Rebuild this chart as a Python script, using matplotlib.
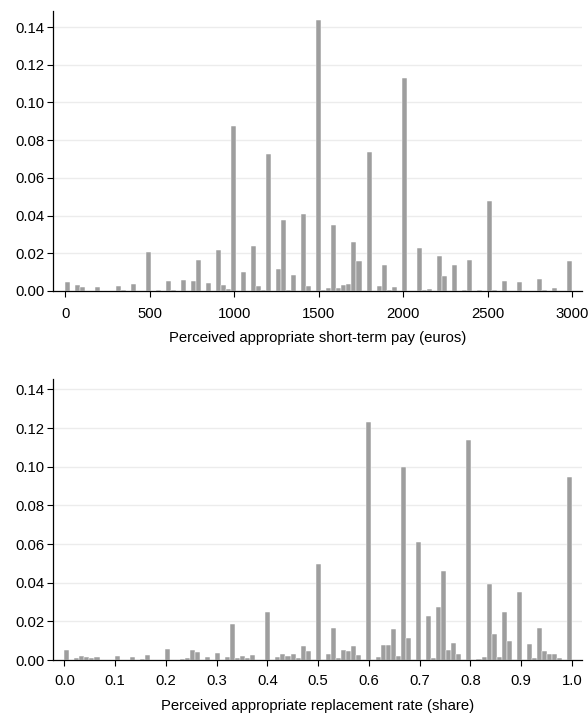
import numpy as np
import matplotlib
matplotlib.use("Agg")
import matplotlib.pyplot as plt

plt.rcParams['font.family'] = ['Liberation Sans', 'DejaVu Sans']

# ---- Top panel: perceived appropriate short-term pay (euros) ----
pay_values = [0, 75, 100, 200, 300, 350, 400, 500, 550, 600, 650, 700, 750, 800,
              850, 900, 940, 970, 1000, 1050, 1100, 1150, 1180, 1200, 1250, 1300,
              1320, 1350, 1400, 1450, 1500, 1520, 1550, 1600, 1620, 1650, 1680,
              1700, 1750, 1800, 1850, 1900, 1920, 1950, 2000, 2100, 2120, 2150,
              2200, 2250, 2300, 2350, 2400, 2450, 2500, 2530, 2600, 2700, 2800,
              2840, 2900, 3000]
pay_share = [0.0049, 0.0032, 0.0023, 0.0023, 0.0028, 0.0007, 0.0037, 0.0205, 0.0007,
             0.0053, 0.0007, 0.0058, 0.0053, 0.0163, 0.0042, 0.0216, 0.0030, 0.0010,
             0.0873, 0.0102, 0.0237, 0.0028, 0.0007, 0.0725, 0.0118, 0.0377, 0.0007,
             0.0083, 0.0407, 0.0027, 0.1437, 0.0006, 0.0014, 0.0352, 0.0014, 0.0032,
             0.0039, 0.0260, 0.0161, 0.0737, 0.0028, 0.0138, 0.0007, 0.0020, 0.1131,
             0.0228, 0.0007, 0.0010, 0.0187, 0.0078, 0.0138, 0.0007, 0.0164, 0.0007,
             0.0479, 0.0005, 0.0053, 0.0048, 0.0064, 0.0005, 0.0016, 0.0161]
pay_ticks = [0, 500, 1000, 1500, 2000, 2500, 3000]
pay_label = "Perceived appropriate short-term pay (euros)"

# ---- Bottom panel: perceived appropriate replacement rate (share) ----
rate_values = [0.0, 0.025, 0.035, 0.045, 0.055, 0.065, 0.1, 0.13, 0.15, 0.16, 0.2,
               0.23, 0.24, 0.25, 0.26, 0.28, 0.3, 0.32, 0.333, 0.34, 0.35, 0.36, 0.37,
               0.4, 0.42, 0.43, 0.44, 0.45, 0.46, 0.47, 0.48, 0.5, 0.52, 0.53, 0.54,
               0.55, 0.56, 0.57, 0.58, 0.6, 0.62, 0.63, 0.64, 0.65, 0.66, 0.667, 0.68,
               0.7, 0.72, 0.73, 0.74, 0.75, 0.76, 0.77, 0.78, 0.8, 0.82, 0.83, 0.84,
               0.85, 0.86, 0.87, 0.88, 0.9, 0.92, 0.93, 0.94, 0.95, 0.96, 0.97, 0.98,
               1.0]
rate_share = [0.0052, 0.0012, 0.0019, 0.0017, 0.0012, 0.0017, 0.0021, 0.0014, 0.0007,
              0.0026, 0.0058, 0.0007, 0.0009, 0.0052, 0.0043, 0.0017, 0.0038, 0.0017,
              0.0188, 0.0009, 0.0019, 0.0012, 0.0026, 0.0248, 0.0017, 0.0031, 0.0021,
              0.0031, 0.0009, 0.0072, 0.0047, 0.0497, 0.0031, 0.0164, 0.0010, 0.0053,
              0.0047, 0.0074, 0.0024, 0.1233, 0.0014, 0.0076, 0.0076, 0.0160, 0.0019,
              0.0998, 0.0115, 0.0612, 0.0228, 0.0010, 0.0272, 0.0459, 0.0053, 0.0088,
              0.0030, 0.1136, 0.0007, 0.0016, 0.0393, 0.0133, 0.0016, 0.0248, 0.0097,
              0.0350, 0.0081, 0.0012, 0.0166, 0.0048, 0.0030, 0.0030, 0.0009, 0.0945]
rate_ticks = [0.0, 0.1, 0.2, 0.3, 0.4, 0.5, 0.6, 0.7, 0.8, 0.9, 1.0]
rate_label = "Perceived appropriate replacement rate (share)"

y_ticks = [0.00, 0.02, 0.04, 0.06, 0.08, 0.10, 0.12, 0.14]
n_bins = 101

bar_color = '#9e9e9e'
fs = 10.7

fig = plt.figure(figsize=(5.88, 7.13), dpi=100)
W, H = 588.0, 713.0

def make_ax(l, r, t, b):
    return fig.add_axes([l / W, (H - b) / H, (r - l) / W, (b - t) / H])

ax1 = make_ax(53.3, 582, 11, 291)
ax2 = make_ax(53.3, 582, 379.3, 660)

def style(ax, xticks, xfmt, xlabel, xlim, ylim, xpad):
    ax.set_xlim(*xlim)
    ax.set_ylim(*ylim)
    ax.set_yticks(y_ticks)
    ax.set_yticklabels([f"{v:.2f}" for v in y_ticks])
    ax.set_xticks(xticks)
    ax.set_xticklabels([xfmt(v) for v in xticks])
    for s in ['top', 'right']:
        ax.spines[s].set_visible(False)
    for s in ['left', 'bottom']:
        ax.spines[s].set_linewidth(0.9)
        ax.spines[s].set_color('black')
    ax.tick_params(axis='both', direction='out', length=4.2, width=0.8,
                   labelsize=fs, colors='black')
    ax.tick_params(axis='y', pad=2)
    ax.tick_params(axis='x', pad=xpad)
    ax.yaxis.grid(True, color='#ececec', linewidth=1.0)
    ax.set_axisbelow(True)
    ax.set_xlabel(xlabel, fontsize=fs, labelpad=7.8)
    gl = ax.yaxis.get_gridlines()
    gl[0].set_visible(False)

ax1.hist(pay_values, bins=n_bins, range=(0, 3000), weights=pay_share,
         color=bar_color, edgecolor='white', linewidth=0.35)
style(ax1, pay_ticks, lambda v: f"{v:d}", pay_label, (-71, 3057), (0, 0.1485), 7)

ax2.hist(rate_values, bins=n_bins, range=(0, 1), weights=rate_share,
         color=bar_color, edgecolor='white', linewidth=0.35)
style(ax2, rate_ticks, lambda v: f"{v:.1f}", rate_label, (-0.0217, 1.0197), (0, 0.1452), 6)

fig.savefig("out.png", dpi=100)
